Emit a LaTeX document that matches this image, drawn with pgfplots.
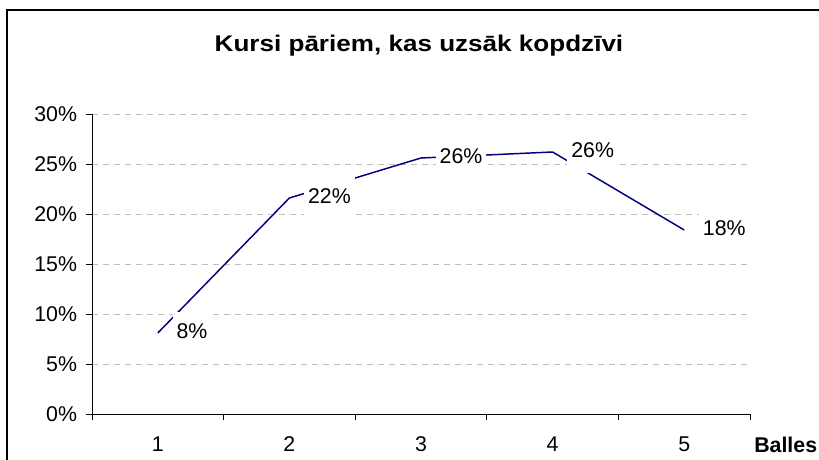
\documentclass[border=0pt]{standalone}
\usepackage{pgfplots}
\pgfplotsset{compat=1.18}
\usepackage{fontspec}
\setmainfont{Liberation Sans}
\definecolor{navyline}{RGB}{0,0,128}
\definecolor{gridgray}{RGB}{190,190,190}
\begin{document}
\begin{tikzpicture}
\useasboundingbox (0pt,0pt) rectangle (614.25pt,345pt);
\clip (0pt,0pt) rectangle (614.25pt,345pt);
\fill[white] (0pt,0pt) rectangle (614.25pt,345pt);
\draw[line width=0.9pt] (5.25pt,337.5pt) rectangle (660pt,-30pt);
\begin{axis}[
  at={(69pt,34.5pt)}, anchor=south west,
  scale only axis, width=493.5pt, height=225pt,
  xmin=0.5, xmax=5.5, ymin=0, ymax=30,
  axis x line*=bottom, axis y line*=left,
  axis line style={black, line width=0.6pt},
  tick align=outside,
  xtick={1,2,3,4,5}, xticklabels={1,2,3,4,5},
  major x tick style={draw=none},
  minor xtick={0.5,1.5,2.5,3.5,4.5,5.5},
  minor tick length=4.5pt, major tick length=4.5pt,
  minor x tick style={black, line width=0.6pt},
  ytick={0,5,10,15,20,25,30},
  yticklabels={0\%,5\%,10\%,15\%,20\%,25\%,30\%},
  y tick style={black, line width=0.6pt},
  ymajorgrids,
  major grid style={gridgray, line width=0.6pt, dash pattern=on 4.5pt off 3.75pt},
  tick label style={font=\fontsize{16pt}{19pt}\selectfont},
  yticklabel style={anchor=east, inner sep=0pt, xshift=-6.5pt},
  xticklabel style={anchor=base, inner sep=0pt, yshift=-24pt},
  clip=false,
]
\addplot[color=navyline, line width=1.1pt, mark=none,
  point meta=explicit symbolic, nodes near coords,
  nodes near coords style={anchor=west, xshift=10.5pt, fill=white,
    inner xsep=3pt, inner ysep=0pt, text height=20.25pt, text depth=11.25pt,
    font=\fontsize{16pt}{19pt}\selectfont, text=black}]
  coordinates {(1,8.1)[8\%] (2,21.6)[22\%] (3,25.6)[26\%] (4,26.2)[26\%] (5,18.4)[18\%]};
\end{axis}
\node[anchor=base, inner sep=0pt, font=\bfseries\fontsize{17pt}{20pt}\selectfont] at (314.25pt,306pt) {\scalebox{1.15}[1]{Kursi pāriem, kas uzsāk kopdzīvi}};
\node[anchor=base west, inner sep=0pt, font=\bfseries\fontsize{16pt}{19pt}\selectfont] at (565.5pt,5.25pt) {Balles};
\end{tikzpicture}
\end{document}
